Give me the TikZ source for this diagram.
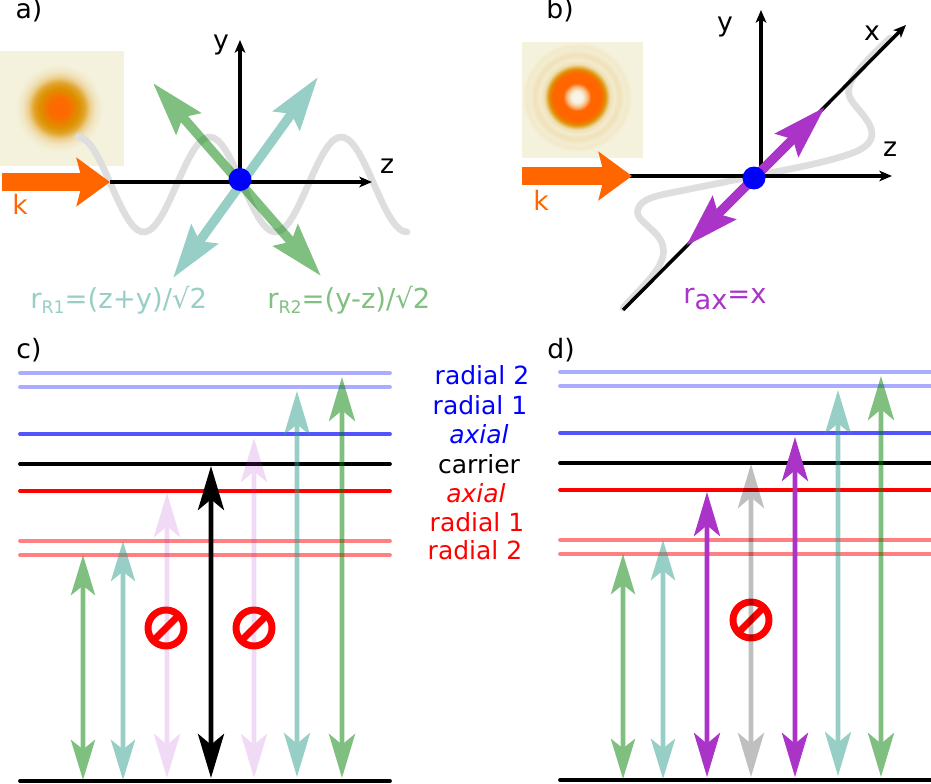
\documentclass[tikz,border=0pt]{standalone}
\usepackage{fontspec}
\setmainfont{DejaVu Sans}
\usetikzlibrary{calc,arrows.meta}
\definecolor{korange}{HTML}{FF6600}
\definecolor{radone}{HTML}{2F9F8F}
\definecolor{radtwo}{HTML}{008000}
\definecolor{axpurple}{HTML}{AA33C8}
\definecolor{bgspot}{HTML}{F4F1DC}
\definecolor{ringdark}{HTML}{DD9100}
\pgfdeclareradialshading{gaussspot}{\pgfpoint{0bp}{0bp}}{color(0bp)=(korange); color(5.5bp)=(korange!85!ringdark); color(11bp)=(ringdark); color(14bp)=(ringdark!80!bgspot); color(17bp)=(ringdark!35!bgspot); color(20bp)=(ringdark!12!bgspot); color(24bp)=(bgspot); color(50bp)=(bgspot)}
\pgfdeclareradialshading{donutspot}{\pgfpoint{0bp}{0bp}}{color(0bp)=(bgspot!50!white); color(2.7bp)=(bgspot); color(4.6bp)=(korange!40!bgspot); color(6.4bp)=(korange); color(11.2bp)=(korange); color(12.8bp)=(ringdark); color(15bp)=(ringdark!20!bgspot); color(17bp)=(ringdark!6!bgspot); color(19.2bp)=(ringdark!17!bgspot); color(21.5bp)=(ringdark!5!bgspot); color(23.5bp)=(ringdark!8!bgspot); color(25bp)=(bgspot); color(50bp)=(bgspot)}
\tikzset{
  lab/.style={font=\fontsize{18.75}{20}\selectfont, anchor=base, inner sep=0pt},
  biglab/.style={font=\fontsize{20}{20}\selectfont, anchor=base, inner sep=0pt},
  levelline/.style={line width=2.8pt, line cap=round},
  axisline/.style={-{Stealth[length=9.5pt,width=8pt,inset=2.5pt]}, line width=2.6pt},
  wave/.style={draw=black!13, line width=5pt, line cap=round},
  kay/.style={-{Stealth[length=25pt,width=36pt,inset=4.5pt]}, draw=korange, line width=14pt},
  bigarrow/.style={{Stealth[length=40pt,width=24pt,inset=6pt]}-{Stealth[length=40pt,width=24pt,inset=6pt]}, line width=7pt},
  levelarrow/.style={{Stealth[length=33pt,width=19.5pt,inset=8pt]}-{Stealth[length=33pt,width=19.5pt,inset=8pt]}, line width=3.7pt},
  smallarrow/.style={{Stealth[length=30pt,width=18pt,inset=7pt]}-{Stealth[length=30pt,width=18pt,inset=7pt]}, line width=3.7pt},
  nope/.style={draw=red, line width=5.2pt},
  dot/.style={fill=blue}
}
\newcommand{\nosign}[1]{\draw[nope] (#1) circle (13.5pt);
  \draw[nope] ($(#1)+(-9.5pt,-9.5pt)$)--($(#1)+(9.5pt,9.5pt)$);}
\begin{document}
\begin{tikzpicture}[x=0.75pt,y=-0.75pt]
  \useasboundingbox (0,0) rectangle (931,784);
  % panel a
  \coordinate (Oa) at (240,182);
  \coordinate (spotA) at (59,108);
  \fill[bgspot] (0,51) rectangle (124,166);
  \shade[shading=gaussspot] (spotA) circle (34pt);
  \draw[wave] plot[domain=78:407,samples=90] (\x,{184.5-47.5*cos((\x-78)/65.8*180)});
  \draw[axisline] (Oa)++(-130,0) -- (372,182);
  \draw[axisline] (Oa) -- (240,40);
  \draw[kay] (2,182) -- (110,182);
  \begin{scope}[transparency group,opacity=.5]
    \draw[bigarrow,radone] (173,278) -- (318,77);
  \end{scope}
  \begin{scope}[transparency group,opacity=.5]
    \draw[bigarrow,radtwo] (153,83) -- (321,276);
  \end{scope}
  \fill[dot] (240,179.5) circle (8.6pt);
  \node[biglab] (tagA) at (29,19) {a)};
  \node[biglab] (yA) at (221,50) {y};
  \node[biglab] (zA) at (387,174) {z};
  \node[biglab,korange] (kA) at (20,215) {k};
  \node[lab,radone!50,anchor=base west] (rOne) at (30,308) {\fontsize{20.6}{20}\selectfont r\raisebox{-4pt}{\fontsize{13}{13}\selectfont R1}=(z+y)/√2};
  \node[lab,radtwo!50,anchor=base west] (rTwo) at (267,308) {\fontsize{20.6}{20}\selectfont r\raisebox{-4pt}{\fontsize{13}{13}\selectfont R2}=(y-z)/√2};
  % panel b
  \coordinate (Ob) at (754,176);
  \coordinate (spotB) at (577,97);
  \fill[bgspot] (522,42) rectangle (643,158);
  \shade[shading=donutspot] (spotB) circle (41pt);
  \draw[wave] (623,308) -- (648,281) .. controls (665,262) and (668,248) .. (657,235) .. controls (645,222) and (635,218) .. (638,209) .. controls (641,198) and (660,195) .. (680,191) .. controls (705,186) and (730,181) .. (754,176) .. controls (785,170) and (830,162) .. (855,152) .. controls (872,145) and (876,135) .. (868,122) .. controls (858,106) and (846,100) .. (849,88) .. controls (851,76) and (865,62) .. (890,38);
  \draw[axisline] (630,176) -- (892,176);
  \draw[axisline] (761,176) -- (761,10);
  \draw[axisline] (623,310) -- (906,25);
  \draw[kay] (522,176) -- (632,176);
  \draw[bigarrow,axpurple] (686,246) -- (825,107);
  \fill[dot] (Ob)++(0,2) circle (8.6pt);
  \node[biglab] (tagB) at (560,19) {b)};
  \node[biglab] (yB) at (725,32) {y};
  \node[biglab] (xB) at (872,41) {x};
  \node[biglab] (zB) at (890,157) {z};
  \node[biglab,korange] (kB) at (541,211) {k};
  \node[lab,axpurple,anchor=base west] (rAx) at (683,303) {\fontsize{20.5}{20}\selectfont r\raisebox{-5pt}{ax}=x};
  % panel c
  \foreach \yy/\col in {373/blue!33,387/blue!33,434/blue!67,464/black,491/red,541/red!50,555/red!50,781/black}
    \draw[levelline,\col] (20,\yy) -- (390,\yy);
  \foreach \xx/\ytop/\ybot/\col/\op/\st in {83/555/780/radtwo/.5/smallarrow,123/541/780/radone/.5/smallarrow,167/493/778/axpurple/.18/levelarrow,254/438/778/axpurple/.18/levelarrow,297/391/777/radone/.5/levelarrow,342/377/778/radtwo/.5/levelarrow,211/466/778/black/1/levelarrow}{
    \begin{scope}[transparency group,opacity=\op]
      \draw[\st,\col] (\xx,\ybot) -- (\xx,\ytop);
    \end{scope}
  }
  \coordinate (signL) at (166,628);
  \coordinate (signR) at (254,628);
  \nosign{signL}
  \nosign{signR}
  \node[biglab] (tagC) at (29,358) {c)};
  \node[lab,blue] (blueTwo) at (482,384) {radial 2};
  \node[lab,blue] (blueOne) at (480,414) {radial 1};
  \node[lab,blue] (blueAx) at (479,443) {\itshape axial};
  \node[lab] (carr) at (479,473) {carrier};
  \node[lab,red] (redAx) at (476,502) {\itshape axial};
  \node[lab,red] (redOne) at (477,531) {radial 1};
  \node[lab,red] (redTwo) at (475,559) {radial 2};
  % panel d
  \foreach \yy/\col in {372/blue!33,386/blue!33,433/blue!67,463/black,490/red,540/red!50,554/red!50,780/black}
    \draw[levelline,\col] (560,\yy) -- (932,\yy);
  \coordinate (signD) at (751,620);
  \nosign{signD}
  \foreach \xx/\ytop/\ybot/\col/\op/\st in {623/554/779/radtwo/.5/smallarrow,663/540/779/radone/.5/smallarrow,707/492/777/axpurple/1/levelarrow,751/464/777/black/.25/levelarrow,795/437/777/axpurple/1/levelarrow,838/390/776/radone/.5/levelarrow,881/376/777/radtwo/.5/levelarrow}{
    \begin{scope}[transparency group,opacity=\op]
      \draw[\st,\col] (\xx,\ybot) -- (\xx,\ytop);
    \end{scope}
  }
  \node[biglab] (tagD) at (561,358) {d)};
\end{tikzpicture}
\end{document}
